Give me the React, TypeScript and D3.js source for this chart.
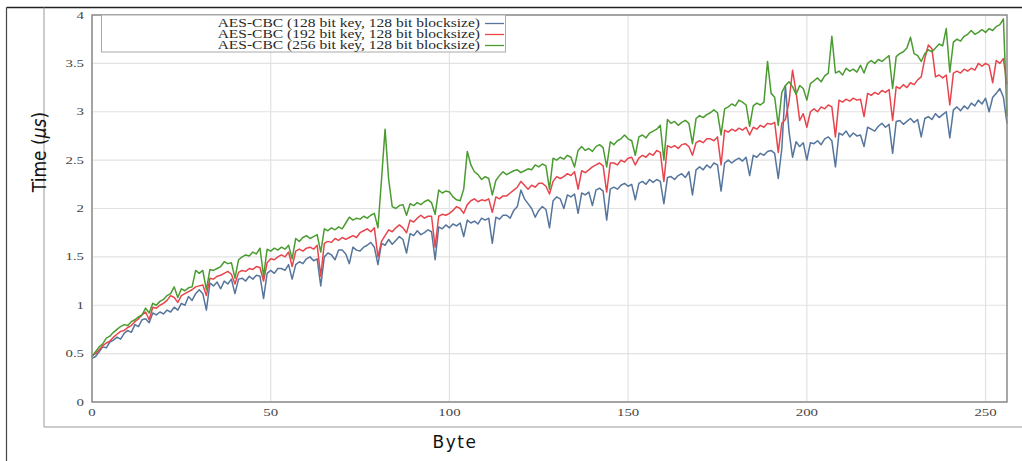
import React from 'react';
import * as d3 from 'd3';

// AES-CBC timing per byte
const bytes = d3.range(0, 257);

const blueTimes = [
  0.45, 0.47, 0.52, 0.57, 0.56, 0.62, 0.64, 0.67, 0.65, 0.71, 0.74, 0.72, 0.8, 0.78, 0.85, 0.86,
  0.82, 0.92, 0.9, 0.93, 0.91, 0.95, 0.93, 0.98, 0.95, 1.02, 1.0, 1.09, 1.05, 1.12, 1.16, 1.12,
  0.95, 1.23, 1.2, 1.24, 1.17, 1.25, 1.22, 1.27, 1.12, 1.27, 1.28, 1.25, 1.3, 1.27, 1.31, 1.3,
  1.07, 1.33, 1.36, 1.33, 1.38, 1.38, 1.36, 1.42, 1.27, 1.42, 1.45, 1.43, 1.48, 1.5, 1.46, 1.48,
  1.2, 1.5, 1.54, 1.52, 1.47, 1.57, 1.57, 1.53, 1.43, 1.6, 1.57, 1.56, 1.6, 1.62, 1.65, 1.6,
  1.42, 1.64, 1.62, 1.68, 1.63, 1.67, 1.71, 1.68, 1.54, 1.74, 1.72, 1.77, 1.73, 1.75, 1.78, 1.76,
  1.47, 1.81, 1.79, 1.83, 1.8, 1.84, 1.82, 1.85, 1.71, 1.88, 1.85, 1.87, 1.84, 1.9, 1.88, 1.9,
  1.64, 1.91, 1.89, 1.93, 1.93, 1.9, 1.98, 2.02, 2.19, 2.1, 2.05, 2.0, 1.91, 1.98, 2.02, 1.99,
  1.8, 2.08, 2.12, 2.1, 2.0, 2.14, 2.12, 2.15, 1.95, 2.16, 2.14, 2.17, 2.03, 2.19, 2.21, 2.18,
  1.88, 2.2, 2.22, 2.2, 2.24, 2.26, 2.23, 2.25, 2.09, 2.26, 2.28, 2.25, 2.3, 2.27, 2.3, 2.28,
  2.05, 2.32, 2.33, 2.3, 2.34, 2.36, 2.32, 2.38, 2.14, 2.4, 2.43, 2.4, 2.45, 2.42, 2.47, 2.45,
  2.18, 2.47, 2.5, 2.47, 2.5, 2.52, 2.49, 2.53, 2.34, 2.55, 2.53, 2.57, 2.55, 2.59, 2.6, 2.57,
  2.31, 2.62, 3.27, 2.8, 2.53, 2.69, 2.64, 2.68, 2.5, 2.68, 2.67, 2.7, 2.66, 2.72, 2.74, 2.7,
  2.43, 2.78, 2.76, 2.8, 2.74, 2.78, 2.75, 2.76, 2.64, 2.84, 2.82, 2.8, 2.85, 2.88, 2.84, 2.87,
  2.57, 2.9, 2.91, 2.87, 2.9, 2.93, 2.89, 2.92, 2.74, 2.93, 2.95, 2.92, 2.98, 2.94, 2.97, 3.0,
  2.73, 3.02, 3.05, 3.01, 3.06, 3.03, 3.09, 3.06, 3.12, 3.08, 3.14, 3.0, 3.15, 3.19, 3.24, 3.15,
  2.88
];

const redTimes = [
  0.48, 0.5, 0.54, 0.58, 0.61, 0.63, 0.67, 0.7, 0.73, 0.74, 0.77, 0.79, 0.83, 0.86, 0.9, 0.93,
  0.85, 0.98, 0.97, 1.0, 1.02, 1.05, 1.1, 1.08, 1.03, 1.1, 1.12, 1.14, 1.16, 1.19, 1.2, 1.21,
  1.1, 1.28, 1.27, 1.3, 1.31, 1.33, 1.35, 1.32, 1.22, 1.34, 1.36, 1.35, 1.38, 1.37, 1.4, 1.39,
  1.25, 1.44, 1.48, 1.47, 1.5, 1.52, 1.5, 1.55, 1.4, 1.56, 1.58, 1.56, 1.59, 1.6, 1.58, 1.62,
  1.3, 1.64, 1.66, 1.65, 1.69, 1.67, 1.7, 1.68, 1.7, 1.72, 1.7, 1.75, 1.77, 1.79, 1.76, 1.8,
  1.5, 1.66, 1.72, 1.78, 1.76, 1.8, 1.83, 1.8, 1.75, 1.88, 1.86, 1.9, 1.93, 1.9, 1.92, 1.92,
  1.6, 1.92, 1.94, 1.93, 1.95, 1.98, 2.02, 2.0, 1.95, 2.04, 2.08, 2.1, 2.07, 2.09, 2.08, 2.1,
  1.96, 2.12, 2.1, 2.13, 2.13, 2.16, 2.19, 2.22, 2.28, 2.24, 2.2, 2.24, 2.22, 2.26, 2.26, 2.23,
  2.15, 2.28, 2.33, 2.31, 2.33, 2.36, 2.34, 2.38, 2.2, 2.39, 2.37, 2.4, 2.43, 2.45, 2.47, 2.44,
  2.17, 2.47, 2.47, 2.45, 2.5, 2.48, 2.52, 2.53, 2.45, 2.52, 2.55, 2.53, 2.57, 2.55, 2.6, 2.58,
  2.28, 2.65, 2.63, 2.65, 2.62, 2.66, 2.67, 2.64, 2.55, 2.68, 2.7, 2.68, 2.72, 2.72, 2.7, 2.74,
  2.45, 2.81, 2.79, 2.82, 2.8, 2.83, 2.81, 2.84, 2.76, 2.84, 2.82, 2.86, 2.84, 2.88, 2.87, 2.89,
  2.58, 2.88, 2.92, 3.1, 3.43, 3.2, 2.91, 2.98, 2.84, 3.0, 3.03, 3.0, 3.05, 3.03, 3.07, 3.05,
  2.74, 3.12, 3.1, 3.13, 3.11, 3.14, 3.12, 3.13, 2.95, 3.19, 3.17, 3.2, 3.18, 3.22, 3.2, 3.23,
  2.91, 3.26, 3.24, 3.28, 3.25, 3.3, 3.28, 3.33, 3.36, 3.55, 3.69, 3.65, 3.36, 3.38, 3.35, 3.38,
  3.07, 3.4, 3.42, 3.4, 3.44, 3.42, 3.45, 3.43, 3.5, 3.47, 3.5, 3.48, 3.3, 3.53, 3.5, 3.55,
  3.28
];

const greenTimes = [
  0.47, 0.52, 0.57, 0.6, 0.66, 0.68, 0.72, 0.75, 0.78, 0.8, 0.79, 0.83, 0.85, 0.88, 0.9, 0.97,
  0.92, 1.02, 1.0, 1.04, 1.06, 1.1, 1.12, 1.19, 1.08, 1.17, 1.15, 1.18, 1.19, 1.36, 1.33, 1.36,
  1.16, 1.37, 1.36, 1.38, 1.4, 1.45, 1.43, 1.44, 1.28, 1.47, 1.5, 1.52, 1.51, 1.55, 1.53, 1.59,
  1.3, 1.58, 1.56, 1.59, 1.57, 1.6, 1.58, 1.62, 1.48, 1.69, 1.66, 1.7, 1.72, 1.69, 1.71, 1.73,
  1.55, 1.79, 1.77, 1.8, 1.78, 1.81, 1.79, 1.85, 1.91, 1.88, 1.9, 1.89, 1.92, 1.9, 1.93, 1.95,
  1.8, 2.3, 2.82, 2.3, 2.02, 2.0, 2.03, 2.04, 1.93, 2.05, 2.03, 2.06, 2.04, 2.07, 2.09, 2.06,
  1.94, 2.19, 2.16, 2.18, 2.17, 2.12, 2.09, 2.08, 2.2, 2.59, 2.45, 2.38, 2.35, 2.3, 2.33, 2.31,
  2.14, 2.29, 2.34, 2.38, 2.35, 2.37, 2.39, 2.4, 2.37, 2.39, 2.41, 2.4, 2.45, 2.43, 2.46, 2.44,
  2.2, 2.52, 2.5, 2.53, 2.51, 2.55, 2.53, 2.43, 2.6, 2.64, 2.6, 2.62, 2.59, 2.64, 2.66, 2.63,
  2.43, 2.69, 2.66, 2.7, 2.72, 2.76, 2.72, 2.7, 2.55, 2.74, 2.76, 2.73, 2.78, 2.8, 2.82, 2.86,
  2.5, 2.92, 2.88, 2.9, 2.86, 2.89, 2.91, 2.88, 2.67, 2.93, 2.96, 2.94, 2.97, 2.99, 3.02, 2.99,
  2.76, 3.03, 3.05, 3.08, 3.06, 3.12, 3.1, 3.07, 2.85, 3.06, 3.09, 3.07, 3.1, 3.52, 3.19, 3.15,
  2.86, 3.2, 3.27, 3.31, 3.26, 3.18, 3.27, 3.24, 3.12, 3.29, 3.32, 3.35, 3.31, 3.37, 3.4, 3.78,
  3.4, 3.42, 3.38, 3.45, 3.42, 3.44, 3.41, 3.48, 3.4, 3.5, 3.53, 3.5, 3.54, 3.52, 3.55, 3.58,
  3.24, 3.57, 3.6, 3.62, 3.66, 3.77, 3.6, 3.58, 3.52, 3.6, 3.64, 3.62, 3.66, 3.7, 3.68, 3.86,
  3.41, 3.72, 3.75, 3.73, 3.78, 3.8, 3.84, 3.8, 3.82, 3.85, 3.82, 3.86, 3.84, 3.88, 3.9, 3.96,
  2.95
];

const seriesNames = [
  'AES-CBC (128 bit key, 128 bit blocksize)',
  'AES-CBC (192 bit key, 128 bit blocksize)',
  'AES-CBC (256 bit key, 128 bit blocksize)'
];
const seriesColors = ['#55759c', '#e8444c', '#4a9b30'];
const seriesValues = [blueTimes, redTimes, greenTimes];

const xTicks = [0, 50, 100, 150, 200, 250];
const yTicks = [0, 0.5, 1, 1.5, 2, 2.5, 3, 3.5, 4];

export default function App() {
  const W = 1022, H = 461;
  const left = 92, right = 1007, top = 15, bottom = 402;
  // the source figure is stretched sideways, so its text is too
  const stretch = 1.35;

  const x = d3.scaleLinear().domain([0, 256]).range([left, right]);
  const y = d3.scaleLinear().domain([0, 4]).range([bottom, top]);

  const line = d3.line<number>()
    .x((d, i) => x(bytes[i]))
    .y(d => y(d));

  const serif = '"Liberation Serif", "Times New Roman", serif';

  return (
    <svg width={W} height={H} style={{ position: 'absolute', left: 0, top: 0, background: '#fff' }}>
      {/* outer page frame */}
      <line x1={6.5} x2={W} y1={7.5} y2={7.5} stroke="#222" strokeWidth={1.5} />
      <line x1={6.5} x2={6.5} y1={7.5} y2={H} stroke="#444" strokeWidth={1.2} />
      <line x1={44} x2={44} y1={7.5} y2={427} stroke="#999" strokeWidth={1} />
      <line x1={44} x2={W} y1={427} y2={427} stroke="#999" strokeWidth={1} />

      {/* grid */}
      {xTicks.map(t => (
        <line key={'gx' + t} x1={x(t)} x2={x(t)} y1={top} y2={bottom} stroke="#e2e2e2" strokeWidth={1.2} />
      ))}
      {yTicks.map(t => (
        <line key={'gy' + t} x1={left} x2={right} y1={y(t)} y2={y(t)} stroke="#e2e2e2" strokeWidth={1.2} />
      ))}

      {/* series */}
      {seriesValues.map((vals, i) => (
        <path key={'s' + i} d={line(vals) || ''} fill="none" stroke={seriesColors[i]}
          strokeWidth={1.5} strokeLinejoin="round" />
      ))}

      {/* plot frame */}
      <rect x={left} y={top} width={right - left} height={bottom - top} fill="none" stroke="#8a8a8a" strokeWidth={1.5} />

      {/* tick labels */}
      {yTicks.map(t => (
        <text key={'ty' + t} transform={`translate(84,${y(t) + 3.5}) scale(${stretch},1)`} textAnchor="end"
          fontFamily={serif} fontSize={11} fill="#444">{String(t)}</text>
      ))}
      {xTicks.map(t => (
        <text key={'tx' + t} transform={`translate(${x(t)},416) scale(${stretch},1)`} textAnchor="middle"
          fontFamily={serif} fontSize={11} fill="#444">{String(t)}</text>
      ))}

      {/* legend */}
      <rect x={101.5} y={15} width={404} height={37} fill="#fff" stroke="#aaa" strokeWidth={1} />
      {seriesNames.map((name, i) => (
        <g key={'lg' + i}>
          <text transform={`translate(480,${27 + i * 11}) scale(${stretch},1)`} textAnchor="end"
            fontFamily={serif} fontSize={11.5} fill="#2a2a2a">{name}</text>
          <line x1={485} x2={504} y1={23.5 + i * 11} y2={23.5 + i * 11} stroke={seriesColors[i]} strokeWidth={1.3} />
        </g>
      ))}

      {/* axis titles */}
      <text transform="translate(46,152) rotate(-90)" textAnchor="middle"
        fontFamily='"Liberation Sans Narrow", "DejaVu Sans Condensed", sans-serif' fontSize={19} fill="#111">
        Time (<tspan fontStyle="italic">μs</tspan>)
      </text>
      <text x={455} y={448} textAnchor="middle" fontFamily='"DejaVu Sans", sans-serif'
        fontSize={17} letterSpacing={1.5} fill="#111">Byte</text>
    </svg>
  );
}
